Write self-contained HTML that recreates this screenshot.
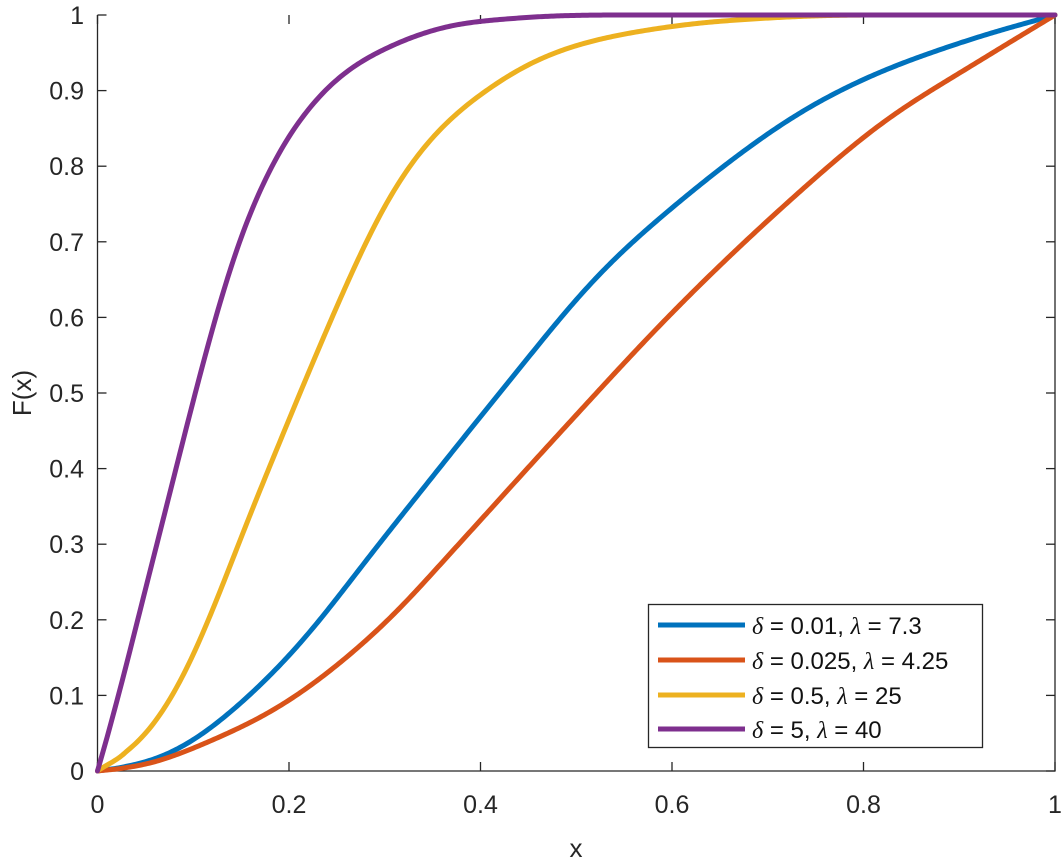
<!DOCTYPE html>
<html><head><meta charset="utf-8"><style>
html,body{margin:0;padding:0;background:#fff;}
svg{display:block;font-family:"Liberation Sans",Arial,sans-serif;}
</style></head><body>
<svg id="s" width="1063" height="861" viewBox="0 0 1063 861" xmlns="http://www.w3.org/2000/svg">
<rect width="1063" height="861" fill="#fff"/>
<g id="ticks" stroke="#262626" stroke-width="1.3"></g>
<g id="curves" fill="none" stroke-width="5" stroke-linejoin="round" stroke-linecap="round"></g>
<g id="labels" font-size="25" fill="#262626"></g>
<text x="576" y="857" font-size="26" text-anchor="middle" fill="#262626">x</text>
<text transform="translate(31,393) rotate(-90)" font-size="26" text-anchor="middle" fill="#262626">F(x)</text>
<rect x="648.5" y="604.5" width="334" height="143" fill="#fff" stroke="#262626" stroke-width="1.3"/>
<g stroke-width="5">
<line x1="658" y1="625" x2="745" y2="625" stroke="#0072BD"/>
<line x1="658" y1="660" x2="745" y2="660" stroke="#D95319"/>
<line x1="658" y1="695" x2="745" y2="695" stroke="#EDB120"/>
<line x1="658" y1="729" x2="745" y2="729" stroke="#7E2F8E"/>
</g>
<g font-size="24" fill="#111">
<text x="752" y="634"><tspan font-family="Liberation Serif" font-style="italic">δ</tspan> = 0.01, <tspan font-family="Liberation Serif" font-style="italic">λ</tspan> = 7.3</text>
<text x="752" y="669"><tspan font-family="Liberation Serif" font-style="italic">δ</tspan> = 0.025, <tspan font-family="Liberation Serif" font-style="italic">λ</tspan> = 4.25</text>
<text x="752" y="704"><tspan font-family="Liberation Serif" font-style="italic">δ</tspan> = 0.5, <tspan font-family="Liberation Serif" font-style="italic">λ</tspan> = 25</text>
<text x="752" y="738"><tspan font-family="Liberation Serif" font-style="italic">δ</tspan> = 5, <tspan font-family="Liberation Serif" font-style="italic">λ</tspan> = 40</text>
</g>
</svg>
<script>
var X0=97.5,XS=957.5,Y0=771,YS=756;
function px(x){return X0+x*XS}function py(y){return Y0-y*YS}
var NS="http://www.w3.org/2000/svg";
function el(t,a,p){var e=document.createElementNS(NS,t);for(var k in a)e.setAttribute(k,a[k]);p.appendChild(e);return e;}
var T=document.getElementById('ticks'),L=document.getElementById('labels');
el('path',{d:'M'+px(0)+','+py(1)+'V'+py(0)+'H'+px(1)+'V'+py(1),fill:'none'},T);
for(var i=0;i<=10;i++){var y=py(i/10);el('line',{x1:px(0),y1:y,x2:px(0)+9,y2:y},T);el('line',{x1:px(1),y1:y,x2:px(1)-9,y2:y},T);
var t=el('text',{x:84,y:y+9,'text-anchor':'end'},L);t.textContent=i==0?'0':i==10?'1':'0.'+i;}
for(var i=0;i<=5;i++){var x=px(i/5);el('line',{x1:x,y1:py(0),x2:x,y2:py(0)-9},T);el('line',{x1:x,y1:py(1),x2:x,y2:py(1)+9},T);
var t=el('text',{x:x,y:813,'text-anchor':'middle'},L);t.textContent=i==0?'0':i==5?'1':'0.'+(2*i);}
function mono(P){var n=P.length,xs=P.map(function(p){return p[0]}),ys=P.map(function(p){return p[1]}),d=[],m=[];
for(var i=0;i<n-1;i++)d.push((ys[i+1]-ys[i])/(xs[i+1]-xs[i]));
m[0]=d[0];m[n-1]=d[n-2];for(var i=1;i<n-1;i++){m[i]=(d[i-1]*d[i]<=0)?0:(d[i-1]+d[i])/2;
var a=m[i]/d[i-1],b=m[i]/d[i];if(a>3)m[i]=3*d[i-1];if(b>3)m[i]=3*d[i];}
return function(x){var i=0;while(i<n-2&&x>xs[i+1])i++;var h=xs[i+1]-xs[i],t=(x-xs[i])/h,t2=t*t,t3=t2*t;
return (2*t3-3*t2+1)*ys[i]+(t3-2*t2+t)*h*m[i]+(-2*t3+3*t2)*ys[i+1]+(t3-t2)*h*m[i+1];};}
var S=[
['#0072BD',[[0,0],[0.05,0.011],[0.1,0.04],[0.2,0.152],[0.3,0.31],[0.42,0.5],[0.52,0.652],[0.6,0.745],[0.72,0.86],[0.8,0.915],[0.91,0.967],[1,1]]],
['#D95319',[[0,0],[0.05,0.008],[0.1,0.03],[0.2,0.093],[0.3,0.195],[0.37,0.29],[0.474,0.435],[0.603,0.61],[0.719,0.75],[0.818,0.856],[0.922,0.94],[1,1]]],
['#EDB120',[[0,0],[0.05,0.045],[0.1,0.15],[0.15,0.31],[0.2,0.465],[0.25,0.615],[0.3,0.75],[0.35,0.84],[0.4,0.895],[0.45,0.935],[0.5,0.96],[0.6,0.985],[0.7,0.996],[0.8,1],[1,1]]],
['#7E2F8E',[[0,0],[0.02,0.09],[0.04,0.19],[0.06,0.29],[0.08,0.39],[0.1,0.49],[0.12,0.585],[0.14,0.67],[0.16,0.74],[0.18,0.795],[0.2,0.84],[0.23,0.89],[0.26,0.925],[0.3,0.955],[0.36,0.983],[0.44,0.996],[0.55,1],[1,1]]]
];
var C=document.getElementById('curves');
var N=1000;
S.forEach(function(s,idx){var f=mono(s[1]);var v=[];
for(var j=0;j<=N;j++){v.push(Math.min(1,Math.max(0,f(j/N))));}
var w=[];var R=idx==3?15:30;
for(var j=0;j<=N;j++){var r=Math.min(R,j,N-j);var sum=0;for(var k=-r;k<=r;k++)sum+=v[j+k];w.push(sum/(2*r+1));}
var d='';for(var j=0;j<=N;j+=2){d+=(j?'L':'M')+px(j/N).toFixed(2)+','+py(w[j]).toFixed(2);}
el('path',{d:d,stroke:s[0]},C);});
</script>
</body></html>
